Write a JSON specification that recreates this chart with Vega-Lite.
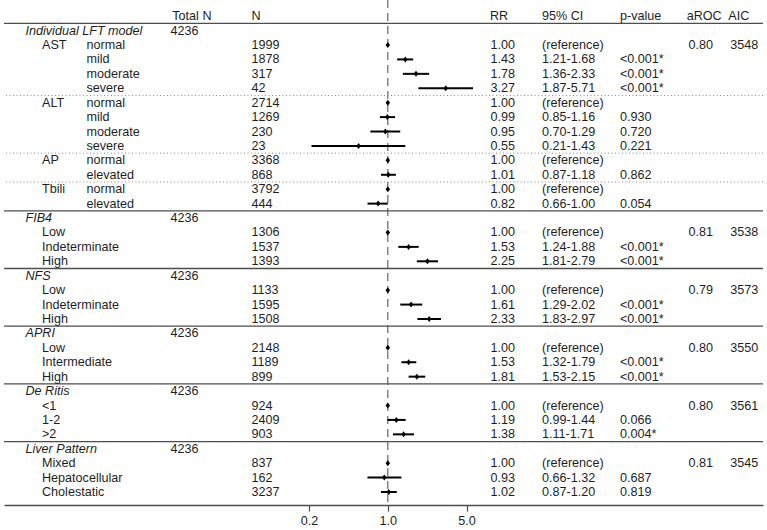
{
  "$schema": "https://vega.github.io/schema/vega-lite/v6.json",
  "width": 759,
  "height": 505,
  "autosize": {"type": "none"},
  "padding": {"top": 0, "left": 4, "right": 4, "bottom": 25},
  "background": "white",
  "config": {
    "view": {"stroke": null},
    "text": {"font": "Liberation Sans", "fontSize": 12.6, "color": "#1e1e1e", "align": "left", "baseline": "middle"},
    "axis": {"labelFont": "Liberation Sans", "labelFontSize": 12.6, "labelColor": "#1e1e1e", "grid": false, "title": null}
  },
  "datasets": {
    "rows": [
      {"row": 1, "model": "Individual LFT model", "totalN": 4236},
      {"row": 2, "var": "AST", "level": "normal", "N": 1999, "RR": 1.00, "CI": "(reference)", "aROC": 0.80, "AIC": 3548},
      {"row": 3, "level": "mild", "N": 1878, "RR": 1.43, "lo": 1.21, "hi": 1.68, "CI": "1.21-1.68", "p": "<0.001*"},
      {"row": 4, "level": "moderate", "N": 317, "RR": 1.78, "lo": 1.36, "hi": 2.33, "CI": "1.36-2.33", "p": "<0.001*"},
      {"row": 5, "level": "severe", "N": 42, "RR": 3.27, "lo": 1.87, "hi": 5.71, "CI": "1.87-5.71", "p": "<0.001*"},
      {"row": 6, "var": "ALT", "level": "normal", "N": 2714, "RR": 1.00, "CI": "(reference)"},
      {"row": 7, "level": "mild", "N": 1269, "RR": 0.99, "lo": 0.85, "hi": 1.16, "CI": "0.85-1.16", "p": "0.930"},
      {"row": 8, "level": "moderate", "N": 230, "RR": 0.95, "lo": 0.70, "hi": 1.29, "CI": "0.70-1.29", "p": "0.720"},
      {"row": 9, "level": "severe", "N": 23, "RR": 0.55, "lo": 0.21, "hi": 1.43, "CI": "0.21-1.43", "p": "0.221"},
      {"row": 10, "var": "AP", "level": "normal", "N": 3368, "RR": 1.00, "CI": "(reference)"},
      {"row": 11, "level": "elevated", "N": 868, "RR": 1.01, "lo": 0.87, "hi": 1.18, "CI": "0.87-1.18", "p": "0.862"},
      {"row": 12, "var": "Tbili", "level": "normal", "N": 3792, "RR": 1.00, "CI": "(reference)"},
      {"row": 13, "level": "elevated", "N": 444, "RR": 0.82, "lo": 0.66, "hi": 1.00, "CI": "0.66-1.00", "p": "0.054"},
      {"row": 14, "model": "FIB4", "totalN": 4236},
      {"row": 15, "cat": "Low", "N": 1306, "RR": 1.00, "CI": "(reference)", "aROC": 0.81, "AIC": 3538},
      {"row": 16, "cat": "Indeterminate", "N": 1537, "RR": 1.53, "lo": 1.24, "hi": 1.88, "CI": "1.24-1.88", "p": "<0.001*"},
      {"row": 17, "cat": "High", "N": 1393, "RR": 2.25, "lo": 1.81, "hi": 2.79, "CI": "1.81-2.79", "p": "<0.001*"},
      {"row": 18, "model": "NFS", "totalN": 4236},
      {"row": 19, "cat": "Low", "N": 1133, "RR": 1.00, "CI": "(reference)", "aROC": 0.79, "AIC": 3573},
      {"row": 20, "cat": "Indeterminate", "N": 1595, "RR": 1.61, "lo": 1.29, "hi": 2.02, "CI": "1.29-2.02", "p": "<0.001*"},
      {"row": 21, "cat": "High", "N": 1508, "RR": 2.33, "lo": 1.83, "hi": 2.97, "CI": "1.83-2.97", "p": "<0.001*"},
      {"row": 22, "model": "APRI", "totalN": 4236},
      {"row": 23, "cat": "Low", "N": 2148, "RR": 1.00, "CI": "(reference)", "aROC": 0.80, "AIC": 3550},
      {"row": 24, "cat": "Intermediate", "N": 1189, "RR": 1.53, "lo": 1.32, "hi": 1.79, "CI": "1.32-1.79", "p": "<0.001*"},
      {"row": 25, "cat": "High", "N": 899, "RR": 1.81, "lo": 1.53, "hi": 2.15, "CI": "1.53-2.15", "p": "<0.001*"},
      {"row": 26, "model": "De Ritis", "totalN": 4236},
      {"row": 27, "cat": "<1", "N": 924, "RR": 1.00, "CI": "(reference)", "aROC": 0.80, "AIC": 3561},
      {"row": 28, "cat": "1-2", "N": 2409, "RR": 1.19, "lo": 0.99, "hi": 1.44, "CI": "0.99-1.44", "p": "0.066"},
      {"row": 29, "cat": ">2", "N": 903, "RR": 1.38, "lo": 1.11, "hi": 1.71, "CI": "1.11-1.71", "p": "0.004*"},
      {"row": 30, "model": "Liver Pattern", "totalN": 4236},
      {"row": 31, "cat": "Mixed", "N": 837, "RR": 1.00, "CI": "(reference)", "aROC": 0.81, "AIC": 3545},
      {"row": 32, "cat": "Hepatocellular", "N": 162, "RR": 0.93, "lo": 0.66, "hi": 1.32, "CI": "0.66-1.32", "p": "0.687"},
      {"row": 33, "cat": "Cholestatic", "N": 3237, "RR": 1.02, "lo": 0.87, "hi": 1.20, "CI": "0.87-1.20", "p": "0.819"}
    ],
    "header": [
      {"row": 0, "totalN": "Total N", "N": "N", "RR": "RR", "CI": "95% CI", "p": "p-value", "aROC": "aROC", "AIC": "AIC"}
    ]
  },
  "layer": [
    {
      "layer": [
        {
          "data": {"values": [{"ref": 1}]},
          "mark": {"type": "rule", "color": "#666666", "strokeWidth": 1.2, "strokeDash": [8, 5]},
          "encoding": {
            "x": {"field": "ref", "type": "quantitative", "scale": {"type": "log", "domain": [0.0003904, 2148], "nice": false},
              "axis": {"values": [0.2, 1, 5], "format": ".1f", "orient": "bottom", "domain": true, "domainColor": "#4d4d4d", "domainWidth": 1.3, "ticks": true, "tickColor": "#4d4d4d", "tickSize": 6, "tickWidth": 1.2, "labelPadding": 3, "labelFlush": false}}
          }
        },
        {
          "data": {"name": "rows"},
          "encoding": {
            "y": {"field": "row", "type": "quantitative", "scale": {"domain": [-1.1207, 33.9], "reverse": true, "nice": false, "zero": false}, "axis": null}
          },
          "layer": [
            {
              "transform": [{"filter": "isValid(datum.model)"}],
              "mark": {"type": "rule", "color": "#4d4d4d", "strokeWidth": 1.3, "yOffset": -7.21},
              "encoding": {}
            },
            {
              "transform": [{"filter": "isValid(datum.var) && datum.var !== 'AST'"}],
              "mark": {"type": "rule", "color": "#8a8a8a", "strokeWidth": 1, "strokeDash": [1, 2.5], "yOffset": -7.21},
              "encoding": {}
            },
            {
              "transform": [{"filter": "isValid(datum.lo)"}],
              "mark": {"type": "rule", "color": "#000000", "strokeWidth": 2},
              "encoding": {
                "x": {"field": "lo", "type": "quantitative"},
                "x2": {"field": "hi"}
              }
            },
            {
              "transform": [{"filter": "isValid(datum.RR)"}],
              "mark": {"type": "point", "shape": "M0,-1L0.75,0L0,1L-0.75,0Z", "filled": true, "color": "#000000", "size": 36, "opacity": 1},
              "encoding": {
                "x": {"field": "RR", "type": "quantitative"}
              }
            }
          ]
        }
      ]
    },
    {
      "encoding": {
        "y": {"field": "row", "type": "quantitative", "axis": null}
      },
      "layer": [
        {"data": {"name": "rows"}, "transform": [{"filter": "isValid(datum.model)"}],
         "mark": {"type": "text", "fontStyle": "italic"},
         "encoding": {"x": {"datum": 21.5, "type": "quantitative", "scale": {"domain": [0, 759], "nice": false, "zero": false}, "axis": null}, "text": {"field": "model"}}},
        {"data": {"name": "rows"}, "transform": [{"filter": "isValid(datum.var)"}],
         "mark": {"type": "text"},
         "encoding": {"x": {"datum": 38, "type": "quantitative"}, "text": {"field": "var"}}},
        {"data": {"name": "rows"}, "transform": [{"filter": "isValid(datum.cat)"}],
         "mark": {"type": "text"},
         "encoding": {"x": {"datum": 38, "type": "quantitative"}, "text": {"field": "cat"}}},
        {"data": {"name": "rows"}, "transform": [{"filter": "isValid(datum.level)"}],
         "mark": {"type": "text"},
         "encoding": {"x": {"datum": 82.5, "type": "quantitative"}, "text": {"field": "level"}}},
        {"data": {"name": "rows"}, "transform": [{"filter": "isValid(datum.totalN)"}],
         "mark": {"type": "text"},
         "encoding": {"x": {"datum": 166.5, "type": "quantitative"}, "text": {"field": "totalN", "type": "quantitative", "format": "d"}}},
        {"data": {"name": "rows"}, "transform": [{"filter": "isValid(datum.N)"}],
         "mark": {"type": "text"},
         "encoding": {"x": {"datum": 247.5, "type": "quantitative"}, "text": {"field": "N", "type": "quantitative", "format": "d"}}},
        {"data": {"name": "rows"}, "transform": [{"filter": "isValid(datum.RR)"}],
         "mark": {"type": "text"},
         "encoding": {"x": {"datum": 486.5, "type": "quantitative"}, "text": {"field": "RR", "type": "quantitative", "format": ".2f"}}},
        {"data": {"name": "rows"}, "transform": [{"filter": "isValid(datum.CI)"}],
         "mark": {"type": "text"},
         "encoding": {"x": {"datum": 538, "type": "quantitative"}, "text": {"field": "CI"}}},
        {"data": {"name": "rows"}, "transform": [{"filter": "isValid(datum.p)"}],
         "mark": {"type": "text"},
         "encoding": {"x": {"datum": 616, "type": "quantitative"}, "text": {"field": "p"}}},
        {"data": {"name": "rows"}, "transform": [{"filter": "isValid(datum.aROC)"}],
         "mark": {"type": "text"},
         "encoding": {"x": {"datum": 684.5, "type": "quantitative"}, "text": {"field": "aROC", "type": "quantitative", "format": ".2f"}}},
        {"data": {"name": "rows"}, "transform": [{"filter": "isValid(datum.AIC)"}],
         "mark": {"type": "text"},
         "encoding": {"x": {"datum": 726.3, "type": "quantitative"}, "text": {"field": "AIC", "type": "quantitative", "format": "d"}}},
        {"data": {"name": "header"}, "mark": {"type": "text"},
         "encoding": {"x": {"datum": 168.3, "type": "quantitative"}, "text": {"field": "totalN"}}},
        {"data": {"name": "header"}, "mark": {"type": "text"},
         "encoding": {"x": {"datum": 247.5, "type": "quantitative"}, "text": {"field": "N"}}},
        {"data": {"name": "header"}, "mark": {"type": "text"},
         "encoding": {"x": {"datum": 486, "type": "quantitative"}, "text": {"field": "RR"}}},
        {"data": {"name": "header"}, "mark": {"type": "text"},
         "encoding": {"x": {"datum": 538, "type": "quantitative"}, "text": {"field": "CI"}}},
        {"data": {"name": "header"}, "mark": {"type": "text"},
         "encoding": {"x": {"datum": 616, "type": "quantitative"}, "text": {"field": "p"}}},
        {"data": {"name": "header"}, "mark": {"type": "text"},
         "encoding": {"x": {"datum": 682.7, "type": "quantitative"}, "text": {"field": "aROC"}}},
        {"data": {"name": "header"}, "mark": {"type": "text"},
         "encoding": {"x": {"datum": 724.3, "type": "quantitative"}, "text": {"field": "AIC"}}}
      ]
    }
  ],
  "resolve": {"scale": {"x": "independent"}, "axis": {"x": "independent"}}
}
